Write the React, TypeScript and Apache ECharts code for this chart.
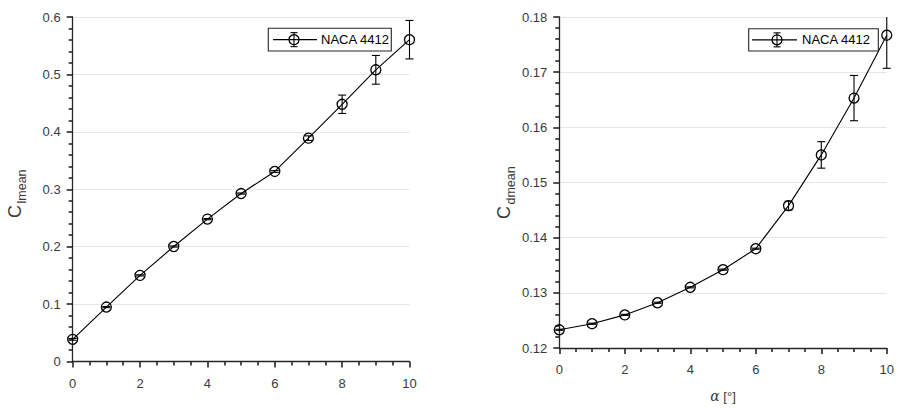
import React, { useEffect, useRef } from "react";
import * as echarts from "echarts";

const alpha = [0, 1, 2, 3, 4, 5, 6, 7, 8, 9, 10];
const clMean = [0.0386, 0.0948, 0.150, 0.2003, 0.248, 0.2925, 0.331, 0.389, 0.448, 0.508, 0.5605];
const clErr = [0.0015, 0.001, 0.001, 0.001, 0.001, 0.001, 0.0015, 0.004, 0.016, 0.025, 0.0335];
const cdMean = [0.1233, 0.1244, 0.126, 0.1282, 0.131, 0.1342, 0.138, 0.1458, 0.155, 0.1653, 0.1767];
const cdErr = [0.0001, 0.0001, 0.0001, 0.0001, 0.0001, 0.0001, 0.0001, 0.0008, 0.0024, 0.0041, 0.006];
const seriesName = "NACA 4412";
const xTicks = { min: 0, max: 10, interval: 2 };
const clTicks = { min: 0, max: 0.6, interval: 0.1 };
const cdTicks = { min: 0.12, max: 0.18, interval: 0.01 };

const FONT = "'Liberation Sans', Arial, Helvetica, sans-serif";
const AX = "#262626";
const LBL = "#3a3a3a";
const TICK = "#262626";

function errRender(params: any, api: any) {
  const x = api.value(0);
  const lo = api.value(1);
  const hi = api.value(2);
  const cs = params.coordSys;
  const top = cs.y;
  const bot = cs.y + cs.height;
  const pLo = api.coord([x, lo]);
  const pHi = api.coord([x, hi]);
  const hw = 4;
  const yLo = Math.min(pLo[1], bot);
  const yHi = Math.max(pHi[1], top);
  const st = { stroke: "#000", lineWidth: 1.1 };
  const children: any[] = [
    { type: "line", shape: { x1: pLo[0], y1: yLo, x2: pHi[0], y2: yHi }, style: st },
  ];
  if (pLo[1] <= bot) children.push({ type: "line", shape: { x1: pLo[0] - hw, y1: pLo[1], x2: pLo[0] + hw, y2: pLo[1] }, style: st });
  if (pHi[1] >= top) children.push({ type: "line", shape: { x1: pHi[0] - hw, y1: pHi[1], x2: pHi[0] + hw, y2: pHi[1] }, style: st });
  return { type: "group", children };
}

function xAxisCfg(gridIndex: number, withName: boolean) {
  return {
    type: "value",
    gridIndex,
    min: xTicks.min,
    max: xTicks.max,
    interval: xTicks.interval,
    axisLine: { show: true, onZero: false, lineStyle: { color: AX, width: 1.3 } },
    axisTick: { show: true, length: 6, lineStyle: { color: TICK, width: 1.6 } },
    minorTick: { show: true, splitNumber: 4, length: 4, lineStyle: { color: TICK, width: 1.6 } },
    splitLine: { show: false },
    axisLabel: { color: LBL, fontSize: 13, fontFamily: FONT, margin: 15 },
    name: withName ? "{a|α} [°]" : "",
    nameLocation: "middle",
    nameGap: 41,
    nameTextStyle: {
      color: LBL,
      fontSize: 13,
      fontFamily: FONT,
      rich: { a: { fontFamily: "'DejaVu Serif', serif", fontStyle: "italic", fontSize: 14, color: LBL } },
    },
  };
}

function yAxisCfg(gridIndex: number, t: any, digits: number) {
  return {
    type: "value",
    gridIndex,
    min: t.min,
    max: t.max,
    interval: t.interval,
    axisLine: { show: true, onZero: false, lineStyle: { color: AX, width: 1.3 } },
    axisTick: { show: true, length: 6, lineStyle: { color: TICK, width: 1.6 } },
    minorTick: { show: true, splitNumber: 5, length: 4, lineStyle: { color: TICK, width: 1.6 } },
    splitLine: { show: true, lineStyle: { color: "#e6e6e6", width: 1 } },
    axisLabel: {
      color: LBL,
      fontSize: 13,
      fontFamily: FONT,
      margin: 12,
      formatter: (v: number) => (Math.abs(v) < 1e-9 ? "0" : v.toFixed(digits)),
    },
  };
}

function lineSeries(xi: number, mean: number[]) {
  return {
    type: "line",
    name: seriesName,
    xAxisIndex: xi,
    yAxisIndex: xi,
    data: alpha.map((a, i) => [a, mean[i]]),
    symbol: "circle",
    symbolSize: 10,
    showSymbol: true,
    lineStyle: { color: "#000", width: 1.1 },
    itemStyle: { color: "rgba(0,0,0,0)", borderColor: "#000", borderWidth: 1.3 },
    z: 3,
  };
}

function errSeries(xi: number, mean: number[], err: number[]) {
  return {
    type: "custom",
    xAxisIndex: xi,
    yAxisIndex: xi,
    renderItem: errRender,
    encode: { x: 0, y: [1, 2] },
    data: alpha.map((a, i) => [a, mean[i] - err[i], mean[i] + err[i]]),
    z: 4,
  };
}

function legendGraphic(x0: number, x1: number, y0: number, y1: number, lx0: number, lx1: number, mx: number, tx: number) {
  const cy = (y0 + y1) / 2;
  const st = { stroke: "#000", lineWidth: 1.1 };
  return {
    type: "group",
    children: [
      { type: "rect", shape: { x: x0, y: y0, width: x1 - x0, height: y1 - y0 }, style: { fill: "#fff", stroke: AX, lineWidth: 1.1 }, z: 10 },
      { type: "line", shape: { x1: lx0, y1: cy, x2: lx1, y2: cy }, style: st, z: 11 },
      { type: "circle", shape: { cx: mx, cy, r: 5 }, style: { fill: "none", stroke: "#000", lineWidth: 1.3 }, z: 11 },
      { type: "line", shape: { x1: mx, y1: cy - 7, x2: mx, y2: cy + 7 }, style: st, z: 11 },
      { type: "line", shape: { x1: mx - 3.5, y1: cy - 7, x2: mx + 3.5, y2: cy - 7 }, style: st, z: 11 },
      { type: "line", shape: { x1: mx - 3.5, y1: cy + 7, x2: mx + 3.5, y2: cy + 7 }, style: st, z: 11 },
      { type: "text", x: tx, y: cy, style: { text: seriesName, fontSize: 13, fontFamily: FONT, fill: "#000", textVerticalAlign: "middle", textAlign: "left" }, z: 11 },
    ],
  };
}

function yLabelGraphic(cx: number, yBottom: number, sub: string) {
  return {
    type: "group",
    x: cx,
    y: yBottom,
    rotation: Math.PI / 2,
    children: [
      { type: "text", x: 0, y: 0, style: { text: "C", fontSize: 18, fontFamily: FONT, fill: LBL, textAlign: "left", textVerticalAlign: "middle" } },
      { type: "text", x: 14.5, y: 6.5, style: { text: sub, fontSize: 12.5, fontFamily: FONT, fill: LBL, textAlign: "left", textVerticalAlign: "middle" } },
    ],
  };
}

export default function App() {
  const ref = useRef<HTMLDivElement>(null);
  useEffect(() => {
    if (!ref.current) return;
    const chart = echarts.init(ref.current, undefined, { renderer: "svg" });
    chart.setOption({
      animation: false,
      backgroundColor: "#fff",
      textStyle: { fontFamily: FONT },
      grid: [
        { left: 72.7, top: 17, width: 336.8, height: 344.5 },
        { left: 559.3, top: 17, width: 330.7, height: 336.5 },
      ],
      xAxis: [xAxisCfg(0, false), xAxisCfg(1, true)],
      yAxis: [yAxisCfg(0, clTicks, 1), yAxisCfg(1, cdTicks, 2)],
      series: [
        lineSeries(0, clMean),
        errSeries(0, clMean, clErr),
        lineSeries(1, cdMean),
        errSeries(1, cdMean, cdErr),
      ],
      graphic: [
        legendGraphic(268.3, 391.3, 28.3, 51, 273, 317, 294, 321),
        legendGraphic(748.7, 878.3, 28.7, 51, 752, 797, 777, 802),
        yLabelGraphic(15, 218, "lmean"),
        yLabelGraphic(504, 219, "dmean"),
      ],
    });
    return () => chart.dispose();
  }, []);
  return <div ref={ref} style={{ position: "fixed", left: 0, top: 0, width: 897, height: 408 }} />;
}
